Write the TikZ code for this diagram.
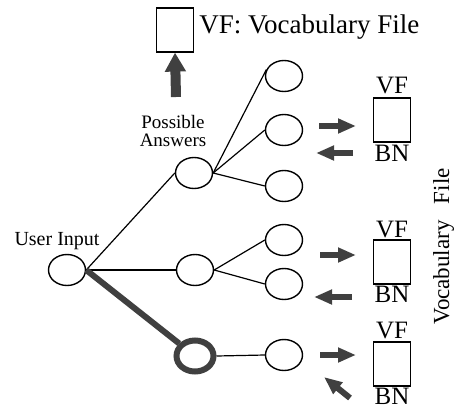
\documentclass[tikz,border=0pt]{standalone}
\usepackage{fontspec}
\setmainfont{Liberation Serif}
\usetikzlibrary{arrows.meta,shapes.geometric}
\tikzset{
  answer/.style={draw, ellipse, line width=0.7pt, minimum width=18.5pt, minimum height=15.5pt, inner sep=0pt},
  vfile/.style={draw, rectangle, line width=0.6pt, minimum width=18.5pt, minimum height=22pt, inner sep=0pt},
  branch/.style={line width=0.6pt},
  chosen/.style={line width=3pt, draw=black!75},
  blockarrow/.style={line width=3pt, black!75, -{Triangle[length=9pt,width=7pt]}},
  bigarrow/.style={line width=5pt, black!75, -{Triangle[length=9.5pt,width=10pt]}},
  lbl/.style={font=\fontsize{12.5}{12.5}\selectfont, inner sep=0pt, anchor=base},
}
\begin{document}
\begin{tikzpicture}[x=0.5pt, y=-0.5pt]
  \useasboundingbox (0,0) rectangle (454,407);

  % Legend
  \node[vfile] (vfbox) at (175,30) {};
  \node[lbl, anchor=base west, font=\fontsize{13.5}{13.5}\selectfont] (vflegend) at (199,33) {VF: Vocabulary File};
  \coordinate (uptail) at (176,97);
  \draw[bigarrow] (uptail) -- (vfbox.south);

  % Tree
  \node[answer] (ui) at (67,270) {};
  \node[lbl, font=\fontsize{10}{10}\selectfont] (uilabel) at (57,245) {User Input};

  \node[answer] (p1) at (194,173) {};
  \node[answer] (p2) at (195,270) {};
  \node[answer, line width=3pt, draw=black!75] (p3) at (195,356) {};
  \node[font=\fontsize{9.5}{9}\selectfont, align=center, inner sep=0pt] (palabel) at (173,131) {Possible\\Answers};

  \node[answer] (c11) at (284,76) {};
  \node[answer] (c12) at (284,130) {};
  \node[answer] (c13) at (284,186) {};
  \node[answer] (c21) at (284,240) {};
  \node[answer] (c22) at (284,284) {};
  \node[answer] (c31) at (284,355) {};

  \draw[branch] (ui.east) -- (p1.west);
  \draw[branch] (ui.east) -- (p2.west);
  \draw[chosen] (ui.east) -- (p3);
  \draw[branch] (p1.east) -- (c11.160);
  \draw[branch] (p1.east) -- (c12.west);
  \draw[branch] (p1.east) -- (c13.west);
  \draw[branch] (p2.east) -- (c21.west);
  \draw[branch] (p2.east) -- (c22.west);
  \draw[branch] (p3.east) -- (c31.west);

  % Vocabulary files
  \node[vfile] (box1) at (392,120) {};
  \node[vfile] (box2) at (392,262) {};
  \node[vfile] (box3) at (392,364) {};
  \node[lbl] (vf1) at (392,93) {VF};
  \node[lbl] (bn1) at (392,161) {BN};
  \node[lbl] (vf2) at (392,237) {VF};
  \node[lbl] (bn2) at (392,302) {BN};
  \node[lbl] (vf3) at (392,338) {VF};
  \node[lbl] (bn3) at (392,404) {BN};

  \coordinate (r1s) at (319,126); \coordinate (r1e) at (356,126);
  \coordinate (l1s) at (353,153); \coordinate (l1e) at (316,153);
  \coordinate (r2s) at (320,255); \coordinate (r2e) at (356,255);
  \coordinate (l2s) at (352,297); \coordinate (l2e) at (314,297);
  \coordinate (r3s) at (320,355); \coordinate (r3e) at (356,355);
  \coordinate (l3s) at (350,398); \coordinate (l3e) at (324,377);
  \draw[blockarrow] (r1s) -- (r1e);
  \draw[blockarrow] (l1s) -- (l1e);
  \draw[blockarrow] (r2s) -- (r2e);
  \draw[blockarrow] (l2s) -- (l2e);
  \draw[blockarrow] (r3s) -- (r3e);
  \draw[blockarrow] (l3s) -- (l3e);

  \node[lbl, anchor=base west, rotate=90, font=\fontsize{11.5}{11.5}\selectfont] (vocab) at (449,325) {Vocabulary\hspace{0.7em}File};
\end{tikzpicture}
\end{document}
